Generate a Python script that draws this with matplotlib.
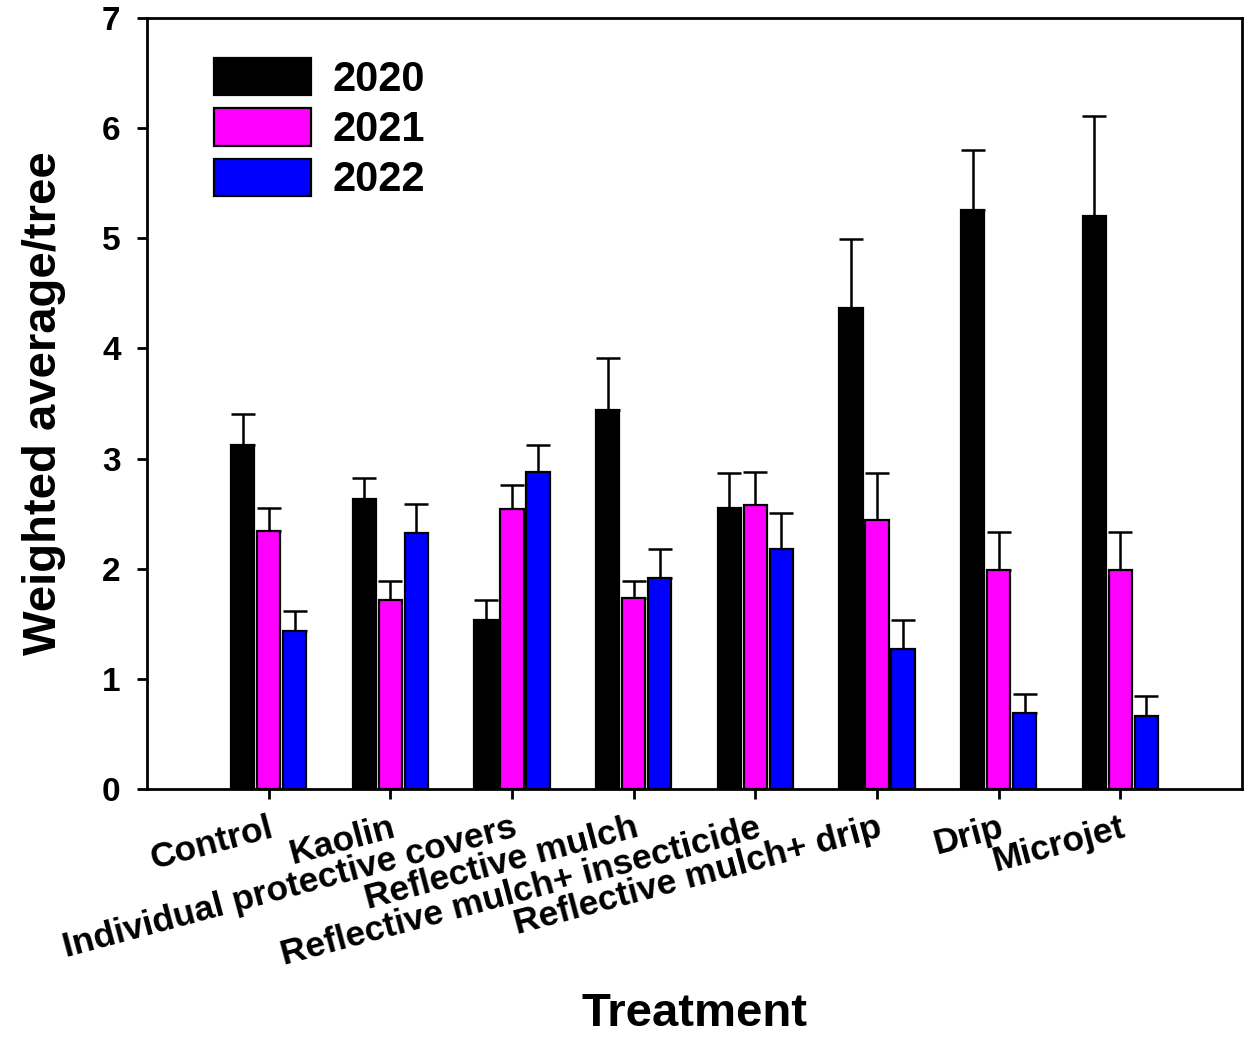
import numpy as np
import matplotlib
matplotlib.use("Agg")
import matplotlib.pyplot as plt

treatments = ["Control", "Kaolin", "Individual protective covers", "Reflective mulch",
              "Reflective mulch+ insecticide", "Reflective mulch+ drip", "Drip", "Microjet"]
years = ["2020", "2021", "2022"]
colors = ["#000000", "#ff00ff", "#0000ff"]

# means per year
v2020 = [3.12, 2.63, 1.53, 3.44, 2.55, 4.37, 5.26, 5.20]
v2021 = [2.34, 1.72, 2.54, 1.73, 2.58, 2.44, 1.99, 1.99]
v2022 = [1.43, 2.32, 2.88, 1.92, 2.18, 1.27, 0.69, 0.66]
# upper error (SE)
e2020 = [0.28, 0.19, 0.19, 0.47, 0.32, 0.62, 0.54, 0.91]
e2021 = [0.21, 0.17, 0.22, 0.16, 0.30, 0.43, 0.34, 0.34]
e2022 = [0.19, 0.27, 0.24, 0.26, 0.33, 0.26, 0.17, 0.18]

plt.rcParams['font.family'] = ['Liberation Sans', 'DejaVu Sans']
plt.rcParams['font.weight'] = 'bold'

fig = plt.figure(figsize=(12.5, 10.38), dpi=100)
ax = fig.add_axes([0.1176, 0.2399, 0.8760, 0.7428])

x = np.arange(1, len(treatments) + 1)
w = 0.19
step = 0.214
vals = [v2020, v2021, v2022]
errs = [e2020, e2021, e2022]
for i in range(3):
    xs = x + (i - 1) * step
    ax.bar(xs, vals[i], w, color=colors[i], edgecolor='black', linewidth=1.6,
           label=years[i], zorder=3)
    ax.errorbar(xs, vals[i], yerr=[np.zeros(len(x)), errs[i]], fmt='none',
                ecolor='black', elinewidth=1.8, capsize=8.5, capthick=1.8, zorder=2)

ax.set_xlim(0, 9)
ax.set_ylim(0, 7)
ax.set_yticks(range(0, 8))
ax.set_xticks(x)
ax.set_xticklabels(treatments, rotation=15, ha='right', va='top', rotation_mode='anchor',
                   fontsize=25.5)
ax.tick_params(axis='both', direction='out', length=7, width=2)
ax.tick_params(axis='y', pad=12, labelsize=24)
ax.tick_params(axis='x', pad=9)
for s in ax.spines.values():
    s.set_linewidth(2)

ax.set_ylabel('Weighted average/tree', fontsize=34, fontweight='bold', labelpad=26)
fig.text(0.5556, 0.002, 'Treatment', fontsize=34, fontweight='bold',
         ha='center', va='bottom')

leg = ax.legend(loc='upper left', bbox_to_anchor=(0.061, 0.948), frameon=False,
                fontsize=30, handlelength=2.33, handleheight=1.0, labelspacing=0.2,
                handletextpad=0.53, borderaxespad=0, borderpad=0)

fig.savefig('out.png', dpi=100)
